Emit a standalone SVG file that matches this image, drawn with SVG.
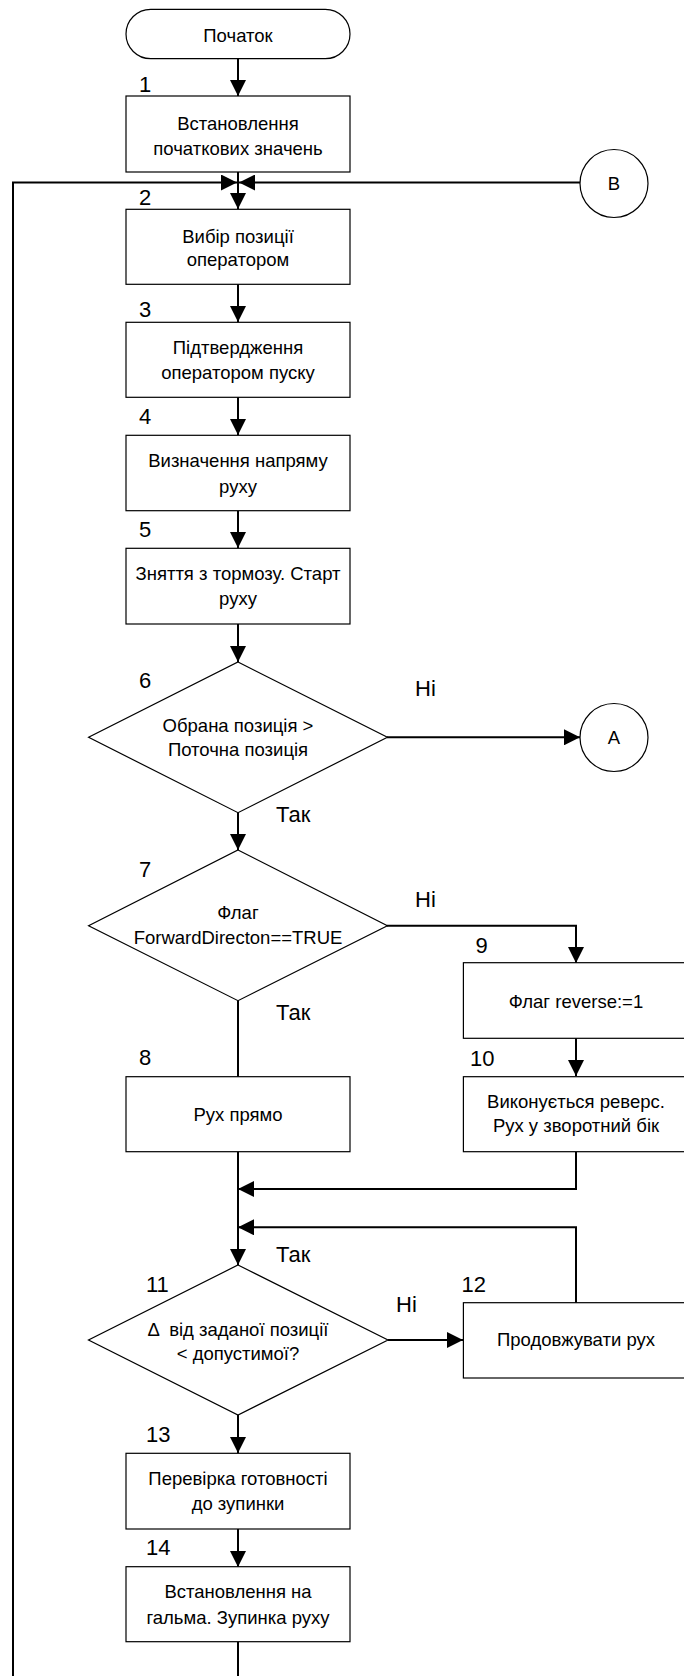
<svg xmlns="http://www.w3.org/2000/svg" width="684" height="1676" viewBox="0 0 684 1676">
<style>
.shape{fill:#fff;stroke:#000;stroke-width:1.2}
.t{font-family:"Liberation Sans",Arial,sans-serif;font-size:18.5px;fill:#000;text-anchor:middle}
.n{font-family:"Liberation Sans",Arial,sans-serif;font-size:22px;fill:#000}
.c{fill:none;stroke:#000;stroke-width:2}
</style>
<defs>
<marker id="ah" markerUnits="userSpaceOnUse" markerWidth="16" markerHeight="16" refX="16" refY="8" orient="auto">
<path d="M0,0 L16,8 L0,16 z" fill="#000"/>
</marker>
</defs>
<rect width="684" height="1676" fill="#fff"/>
<g id="connectors">
<path class="c" d="M238,59 V96" marker-end="url(#ah)"/>
<path class="c" d="M238,172 V209" marker-end="url(#ah)"/>
<path class="c" d="M238,1642 V1676"/>
<path class="c" d="M13,1676 V182.5 H237" marker-end="url(#ah)"/>
<path class="c" d="M580,182.5 H239" marker-end="url(#ah)"/>
<path class="c" d="M238,284 V322" marker-end="url(#ah)"/>
<path class="c" d="M238,397 V435" marker-end="url(#ah)"/>
<path class="c" d="M238,511 V548" marker-end="url(#ah)"/>
<path class="c" d="M238,624 V662" marker-end="url(#ah)"/>
<path class="c" d="M387,737.3 H580" marker-end="url(#ah)"/>
<path class="c" d="M238,813 V850" marker-end="url(#ah)"/>
<path class="c" d="M387,925.7 H576 V963" marker-end="url(#ah)"/>
<path class="c" d="M238,1001 V1077"/>
<path class="c" d="M576,1038 V1076" marker-end="url(#ah)"/>
<path class="c" d="M576,1152 V1189 H238" marker-end="url(#ah)"/>
<path class="c" d="M238,1152 V1265" marker-end="url(#ah)"/>
<path class="c" d="M576,1303 V1227.3 H238" marker-end="url(#ah)"/>
<path class="c" d="M388,1340 H463" marker-end="url(#ah)"/>
<path class="c" d="M238,1415 V1453" marker-end="url(#ah)"/>
<path class="c" d="M238,1529 V1567" marker-end="url(#ah)"/>
</g>
<g id="labels">
<text class="n" x="415" y="696">Ні</text>
<text class="n" x="276" y="821.7">Так</text>
<text class="n" x="415" y="906.7">Ні</text>
<text class="n" x="276" y="1020">Так</text>
<text class="n" x="276" y="1261.7">Так</text>
<text class="n" x="396" y="1311.7">Ні</text>
</g>
<g id="start">
<rect class="shape" x="126" y="9.3" width="224" height="49.4" rx="24.7"/>
<text class="t" x="238" y="42">Початок</text>
</g>
<g id="node1">
<rect class="shape" x="126" y="96" width="224" height="76"/>
<text class="n" x="139" y="92">1</text>
<text class="t" x="238" y="129.5">Встановлення</text>
<text class="t" x="238" y="154.5">початкових значень</text>
</g>
<g id="connectorB">
<circle class="shape" cx="614" cy="183.5" r="34"/>
<text class="t" x="614" y="190">B</text>
</g>
<g id="node2">
<rect class="shape" x="126" y="209.3" width="224" height="75"/>
<text class="n" x="139" y="205">2</text>
<text class="t" x="238" y="242.8">Вибір позиції</text>
<text class="t" x="238" y="266.3">оператором</text>
</g>
<g id="node3">
<rect class="shape" x="126" y="322.3" width="224" height="75"/>
<text class="n" x="139" y="317.3">3</text>
<text class="t" x="238" y="354">Підтвердження</text>
<text class="t" x="238" y="379">оператором пуску</text>
</g>
<g id="node4">
<rect class="shape" x="126" y="435.3" width="224" height="75.4"/>
<text class="n" x="139" y="424">4</text>
<text class="t" x="238" y="467.3">Визначення напряму</text>
<text class="t" x="238" y="492.5">руху</text>
</g>
<g id="node5">
<rect class="shape" x="126" y="548.3" width="224" height="75.7"/>
<text class="n" x="139" y="537.3">5</text>
<text class="t" x="238" y="580">Зняття з тормозу. Старт</text>
<text class="t" x="238" y="605">руху</text>
</g>
<g id="node6">
<polygon class="shape" points="238,662 387.4,737.3 238,812.7 88.6,737.3"/>
<text class="n" x="139" y="688">6</text>
<text class="t" x="238" y="731.5">Обрана позиція &gt;</text>
<text class="t" x="238" y="755.5">Поточна позиція</text>
</g>
<g id="connectorA">
<circle class="shape" cx="614" cy="737.5" r="34"/>
<text class="t" x="614" y="744">A</text>
</g>
<g id="node7">
<polygon class="shape" points="238,850 387.4,925.7 238,1000.7 88.6,925.7"/>
<text class="n" x="139" y="877">7</text>
<text class="t" x="238" y="919">Флаг</text>
<text class="t" x="238" y="944">ForwardDirecton==TRUE</text>
</g>
<g id="node9">
<rect class="shape" x="463.4" y="962.7" width="226" height="75.6"/>
<text class="n" x="475.5" y="953">9</text>
<text class="t" x="576" y="1008.2">Флаг reverse:=1</text>
</g>
<g id="node8">
<rect class="shape" x="126" y="1076.7" width="224" height="75"/>
<text class="n" x="139" y="1065">8</text>
<text class="t" x="238" y="1120.5">Рух прямо</text>
</g>
<g id="node10">
<rect class="shape" x="463.4" y="1076.7" width="226" height="75"/>
<text class="n" x="470" y="1066">10</text>
<text class="t" x="576" y="1107.5">Виконується реверс.</text>
<text class="t" x="576" y="1132">Рух у зворотний бік</text>
</g>
<g id="node11">
<polygon class="shape" points="238,1265 388,1340 238,1415 88.5,1340"/>
<text class="n" x="146" y="1291.7">11</text>
<text class="t" x="238" y="1335.5" xml:space="preserve">Δ  від заданої позиції</text>
<text class="t" x="238" y="1360">&lt; допустимої?</text>
</g>
<g id="node12">
<rect class="shape" x="463.4" y="1302.7" width="226" height="75.3"/>
<text class="n" x="461.6" y="1291.7">12</text>
<text class="t" x="576" y="1345.5">Продовжувати рух</text>
</g>
<g id="node13">
<rect class="shape" x="126" y="1453.3" width="224" height="75.7"/>
<text class="n" x="146" y="1441.7">13</text>
<text class="t" x="238" y="1485">Перевірка готовності</text>
<text class="t" x="238" y="1510">до зупинки</text>
</g>
<g id="node14">
<rect class="shape" x="126" y="1566.7" width="224" height="75"/>
<text class="n" x="146" y="1555">14</text>
<text class="t" x="238" y="1598">Встановлення на</text>
<text class="t" x="238" y="1624">гальма. Зупинка руху</text>
</g>
</svg>
